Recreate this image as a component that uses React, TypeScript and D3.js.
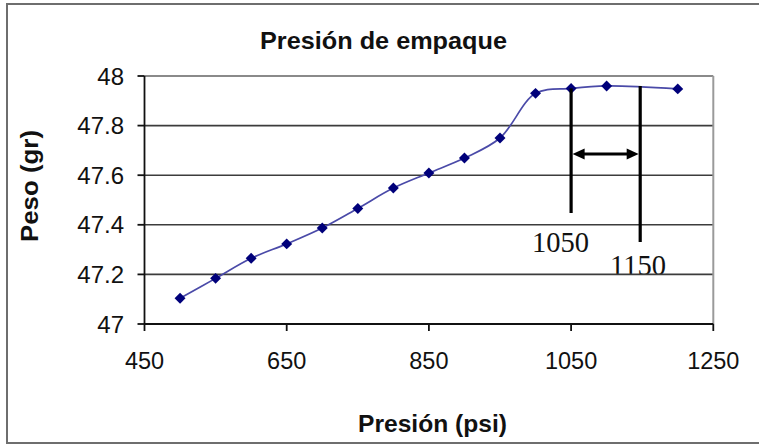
import React from "react";
import * as d3 from "d3";

const presion = [500, 550, 600, 650, 700, 750, 800, 850, 900, 950, 1000, 1050, 1100, 1200];
const peso = [47.104, 47.184, 47.265, 47.323, 47.387, 47.466, 47.548, 47.609, 47.669, 47.75, 47.93, 47.95, 47.96, 47.948];
const xTicks = [450, 650, 850, 1050, 1250];
const yTicks = [47, 47.2, 47.4, 47.6, 47.8, 48];
const rangeMarks = [1050, 1150];
const title = "Presión de empaque";
const xLabel = "Presión (psi)";
const yLabel = "Peso (gr)";

export default function App() {
  const W = 759, H = 445;
  const x = d3.scaleLinear().domain([450, 1250]).range([144.5, 713.3]);
  const y = d3.scaleLinear().domain([47, 48]).range([324, 76]);
  const pts = presion.map((p, i) => [x(p), y(peso[i])] as [number, number]);
  const line = d3.line().curve(d3.curveCatmullRom.alpha(0.5))(pts) || "";
  const diamond = d3.symbol(d3.symbolSquare, 60)() || "";
  const lx1 = x(rangeMarks[0]);
  const lx2 = x(rangeMarks[1]) - 2;
  const arrowY = 154;
  const ah = 12, aw = 5.5;
  return (
    <svg width={W} height={H} style={{ position: "absolute", left: 0, top: 0, display: "block" }}
      fontFamily="'Liberation Sans', Arial, sans-serif">
      <rect x={0} y={0} width={W} height={H} fill="#fff" />
      <rect x={7} y={4} width={780} height={439} fill="none" stroke="#6e6e6e" strokeWidth={2} />
      <text x={383.5} y={48.5} textAnchor="middle" fontWeight="bold" fontSize={24} textLength={247} lengthAdjust="spacingAndGlyphs" fill="#111">{title}</text>
      {/* annotation text */}
      <text x={532} y={252} fontFamily="'Liberation Serif', 'Times New Roman', serif" fontSize={28.5} fill="#111">{String(rangeMarks[0])}</text>
      <text x={610} y={275} fontFamily="'Liberation Serif', 'Times New Roman', serif" fontSize={28.5} fill="#111">{String(rangeMarks[1])}</text>
      {/* gridlines */}
      {yTicks.slice(1).map((t) => (
        <line key={t} x1={x(450)} x2={x(1250)} y1={y(t)} y2={y(t)}
          stroke={t === 48 ? "#8a8a8a" : "#3c3c3c"} strokeWidth={t === 48 ? 2 : 1.6} />
      ))}
      <line x1={x(1250)} x2={x(1250)} y1={y(48)} y2={y(47)} stroke="#9a9a9a" strokeWidth={2} />
      {/* axes */}
      <line x1={x(450)} x2={x(450)} y1={y(48)} y2={y(47)} stroke="#111" strokeWidth={1.8} />
      <line x1={x(450)} x2={x(1250)} y1={y(47)} y2={y(47)} stroke="#111" strokeWidth={1.8} />
      {yTicks.map((t) => (
        <g key={t}>
          <line x1={x(450) - 7} x2={x(450)} y1={y(t)} y2={y(t)} stroke="#111" strokeWidth={1.8} />
          <text x={124} y={y(t)} dy="0.36em" textAnchor="end" fontSize={24} fill="#111">{d3.format("~g")(t)}</text>
        </g>
      ))}
      {xTicks.map((t) => (
        <g key={t}>
          <line x1={x(t)} x2={x(t)} y1={y(47)} y2={y(47) + 7} stroke="#111" strokeWidth={1.8} />
          <text x={x(t)} y={369} textAnchor="middle" fontSize={23.5} fill="#111">{t}</text>
        </g>
      ))}
      <text x={432.5} y={431.5} textAnchor="middle" fontWeight="bold" fontSize={24} textLength={149} lengthAdjust="spacingAndGlyphs" fill="#111">{xLabel}</text>
      <text transform="translate(38,186) rotate(-90)" textAnchor="middle" fontWeight="bold" fontSize={23}
        textLength={112} lengthAdjust="spacingAndGlyphs" fill="#111">{yLabel}</text>
      {/* series */}
      <path d={line} fill="none" stroke="#4a4aa8" strokeWidth={1.7} />
      {pts.map(([px, py], i) => (
        <path key={i} d={diamond} transform={`translate(${px},${py}) rotate(45)`} fill="#00007a" />
      ))}
      {/* annotation lines */}
      <line x1={lx1} x2={lx1} y1={y(peso[11])} y2={213} stroke="#000" strokeWidth={3.2} />
      <line x1={lx2} x2={lx2} y1={86} y2={242} stroke="#000" strokeWidth={3.2} />
      <line x1={lx1 + 6} x2={lx2 - 6} y1={arrowY} y2={arrowY} stroke="#000" strokeWidth={3.2} />
      <path d={`M${lx1 + 1.5},${arrowY} L${lx1 + 1.5 + ah},${arrowY - aw} L${lx1 + 1.5 + ah},${arrowY + aw} Z`} fill="#000" />
      <path d={`M${lx2 - 1.5},${arrowY} L${lx2 - 1.5 - ah},${arrowY - aw} L${lx2 - 1.5 - ah},${arrowY + aw} Z`} fill="#000" />
    </svg>
  );
}
